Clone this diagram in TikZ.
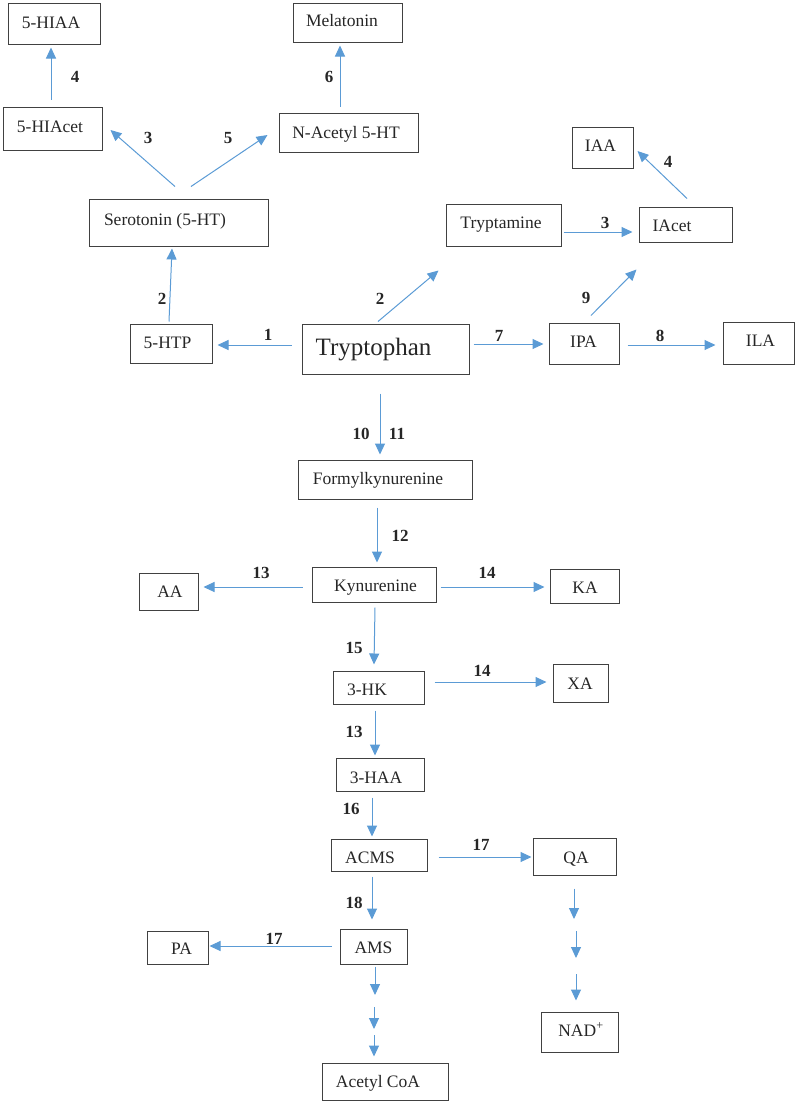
\documentclass[tikz,border=0pt]{standalone}
\usepackage{fontspec}
\setmainfont{Liberation Serif}
\usetikzlibrary{arrows.meta,calc}
\definecolor{arrblue}{RGB}{91,155,213}
\definecolor{boxgray}{RGB}{65,65,65}
\begin{document}
\begin{tikzpicture}[x=1pt,y=-1pt,
  box/.style={draw=boxgray,line width=1pt,inner sep=0pt,fill=none},
  txt/.style={anchor=base,inner sep=0pt,font=\fontsize{17.5}{20}\selectfont,text=black!85},
  num/.style={inner sep=0pt,font=\fontsize{17}{20}\selectfont\bfseries,text=black!85},
  arr/.style={draw=arrblue,line width=1pt,-{Triangle[length=11pt,width=10pt]}}]
\useasboundingbox (0,0) rectangle (797,1104);
% boxes
\node[box,minimum width=92pt,minimum height=41pt] (hiaa) at (54,23.5) {};
\node[box,minimum width=109pt,minimum height=39pt] (mel) at (347.5,22.5) {};
\node[box,minimum width=99pt,minimum height=43pt] (hiacet) at (52.5,128.5) {};
\node[box,minimum width=139pt,minimum height=39pt] (nac) at (348.5,132.5) {};
\node[box,minimum width=179pt,minimum height=47pt] (ser) at (178.5,222.5) {};
\node[box,minimum width=82pt,minimum height=39pt] (htp) at (171,343.5) {};
\node[box,minimum width=167pt,minimum height=50pt] (trp) at (385.5,349) {};
\node[box,minimum width=115pt,minimum height=42pt] (tra) at (503.5,225) {};
\node[box,minimum width=61pt,minimum height=41pt] (iaa) at (602.5,147.5) {};
\node[box,minimum width=93pt,minimum height=35pt] (iacet) at (685.5,224.5) {};
\node[box,minimum width=70pt,minimum height=41pt] (ipa) at (584,343.5) {};
\node[box,minimum width=71pt,minimum height=42pt] (ila) at (758.5,343) {};
\node[box,minimum width=174pt,minimum height=39pt] (fk) at (385,479.5) {};
\node[box,minimum width=124pt,minimum height=35pt] (kyn) at (374,584.5) {};
\node[box,minimum width=59pt,minimum height=37pt] (aa) at (168.5,591.5) {};
\node[box,minimum width=69pt,minimum height=34pt] (ka) at (584.5,586) {};
\node[box,minimum width=91pt,minimum height=33pt] (hk) at (378.5,687.5) {};
\node[box,minimum width=55pt,minimum height=38pt] (xa) at (580.5,683) {};
\node[box,minimum width=88pt,minimum height=33pt] (haa) at (380,774.5) {};
\node[box,minimum width=96pt,minimum height=32pt] (acms) at (379,855) {};
\node[box,minimum width=83pt,minimum height=37pt] (qa) at (574.5,856.5) {};
\node[box,minimum width=67pt,minimum height=35pt] (ams) at (373.5,946.5) {};
\node[box,minimum width=61pt,minimum height=33pt] (pa) at (177.5,947.5) {};
\node[box,minimum width=77pt,minimum height=40pt] (nad) at (579.5,1032) {};
\node[box,minimum width=126pt,minimum height=37pt] (acoa) at (385,1081.5) {};
% box texts
\node[txt] (hiaa-t) at (51,28) {5-HIAA};
\node[txt] (mel-t) at (342,26) {Melatonin};
\node[txt] (hiacet-t) at (50,132) {5-HIAcet};
\node[txt] (nac-t) at (346,138) {N-Acetyl 5-HT};
\node[txt] (ser-t) at (165,225) {Serotonin (5-HT)};
\node[txt] (htp-t) at (167.5,348) {5-HTP};
\node[txt,font=\fontsize{25}{28}\selectfont] (trp-t) at (373.5,355) {Tryptophan};
\node[txt] (tra-t) at (501,228) {Tryptamine};
\node[txt] (iaa-t) at (600.5,151) {IAA};
\node[txt] (iacet-t) at (672,231) {IAcet};
\node[txt] (ipa-t) at (583.5,347) {IPA};
\node[txt] (ila-t) at (760.5,346) {ILA};
\node[txt] (fk-t) at (378,484) {Formylkynurenine};
\node[txt] (kyn-t) at (375.5,591) {Kynurenine};
\node[txt] (aa-t) at (170,597) {AA};
\node[txt] (ka-t) at (585,593) {KA};
\node[txt] (hk-t) at (367,695) {3-HK};
\node[txt] (xa-t) at (580,689) {XA};
\node[txt] (haa-t) at (376,783) {3-HAA};
\node[txt] (acms-t) at (370,863) {ACMS};
\node[txt] (qa-t) at (576,863) {QA};
\node[txt] (ams-t) at (373.5,953) {AMS};
\node[txt] (pa-t) at (181.5,954) {PA};
\node[txt] (nad-t) at (581,1036) {NAD\textsuperscript{+}};
\node[txt] (acoa-t) at (378,1087) {Acetyl CoA};
% connectors
\draw[arr] ($(hiacet.north)+(-1.5,-7)$) -- ($(hiaa.south)+(-3,3)$);
\draw[arr] ($(ser.north)+(-3.5,-12)$) -- ($(hiacet.east)+(8,1.5)$);
\draw[arr] ($(ser.north)+(12.5,-12)$) -- ($(nac.west)+(-11,2.5)$);
\draw[arr] ($(nac.north)+(-8.5,-6)$) -- ($(mel.south)+(-7.5,3)$);
\draw[arr] ($(htp.north)+(-2,-2)$) -- ($(ser.south)+(-6.5,2)$);
\draw[arr] ($(trp.west)+(-10,-4)$) -- ($(htp.east)+(5,1.5)$);
\draw[arr] ($(trp.north)+(-7.5,-2)$) -- ($(tra.south west)+(-7,24)$);
\draw[arr] ($(tra.east)+(2,7)$) -- ($(iacet.west)+(-6,7.5)$);
\draw[arr] ($(iacet.north)+(1.5,-8)$) -- ($(iaa.east)+(4,3.5)$);
\draw[arr] ($(ipa.north)+(7,-7)$) -- ($(iacet.south west)+(-2,27)$);
\draw[arr] ($(trp.east)+(4,-5)$) -- ($(ipa.west)+(-5,0.5)$);
\draw[arr] ($(ipa.east)+(8,1.5)$) -- ($(ila.west)+(-7,2)$);
\draw[arr] ($(trp.south)+(-5.5,19)$) -- ($(fk.north)+(-5,-5)$);
\draw[arr] ($(fk.south)+(-8,8)$) -- ($(kyn.north)+(3,-4)$);
\draw[arr] ($(kyn.west)+(-9,2.5)$) -- ($(aa.east)+(5,-4.5)$);
\draw[arr] ($(kyn.east)+(4,2.5)$) -- ($(ka.west)+(-5,1)$);
\draw[arr] ($(kyn.south)+(1,5)$) -- ($(hk.north)+(-4.5,-6)$);
\draw[arr] ($(hk.east)+(10,-5.5)$) -- ($(xa.west)+(-6,-1)$);
\draw[arr] ($(hk.south)+(-3.5,6)$) -- ($(haa.north)+(-5,-2)$);
\draw[arr] ($(haa.south)+(-8,6)$) -- ($(acms.north)+(-7,-2)$);
\draw[arr] ($(acms.east)+(11,2)$) -- ($(qa.west)+(-1,0.5)$);
\draw[arr] ($(acms.south)+(-7,5)$) -- ($(ams.north)+(-1.5,-9)$);
\draw[arr] ($(ams.west)+(-8,-0.5)$) -- ($(pa.east)+(1,-1.5)$);
% chained steps
\coordinate (ams-a) at (375,995);
\coordinate (ams-b) at (374,1007);
\coordinate (ams-c) at (374,1029);
\coordinate (ams-d) at (374,1035);
\draw[arr] ($(ams.south)+(1.5,2)$) -- (ams-a);
\draw[arr] (ams-b) -- (ams-c);
\draw[arr] (ams-d) -- ($(acoa.north)+(-11,-6)$);
\coordinate (qa-a) at (574,919);
\coordinate (qa-b) at (576,931);
\coordinate (qa-c) at (576,958);
\coordinate (qa-d) at (576,974);
\draw[arr] ($(qa.south)+(-0.5,13)$) -- (qa-a);
\draw[arr] (qa-b) -- (qa-c);
\draw[arr] (qa-d) -- ($(nad.north)+(-3.5,-11)$);
% step numbers
\node[num] (n4a) at (75,77) {4};
\node[num] (n3a) at (148,138) {3};
\node[num] (n5) at (228,138) {5};
\node[num] (n6) at (329,77) {6};
\node[num] (n2a) at (162,299) {2};
\node[num] (n2b) at (380,299) {2};
\node[num] (n1) at (268,335) {1};
\node[num] (n3b) at (605,223) {3};
\node[num] (n4b) at (668,162) {4};
\node[num] (n9) at (586,298) {9};
\node[num] (n7) at (499,336) {7};
\node[num] (n8) at (660,336) {8};
\node[num] (n10) at (361,434) {10};
\node[num] (n11) at (397,434) {11};
\node[num] (n12) at (400,536) {12};
\node[num] (n13a) at (261,573) {13};
\node[num] (n14a) at (487,573) {14};
\node[num] (n15) at (354,648) {15};
\node[num] (n14b) at (482,671) {14};
\node[num] (n13b) at (354,732) {13};
\node[num] (n16) at (351,809) {16};
\node[num] (n17a) at (481,845) {17};
\node[num] (n18) at (354,903) {18};
\node[num] (n17b) at (274,939) {17};
\end{tikzpicture}
\end{document}
